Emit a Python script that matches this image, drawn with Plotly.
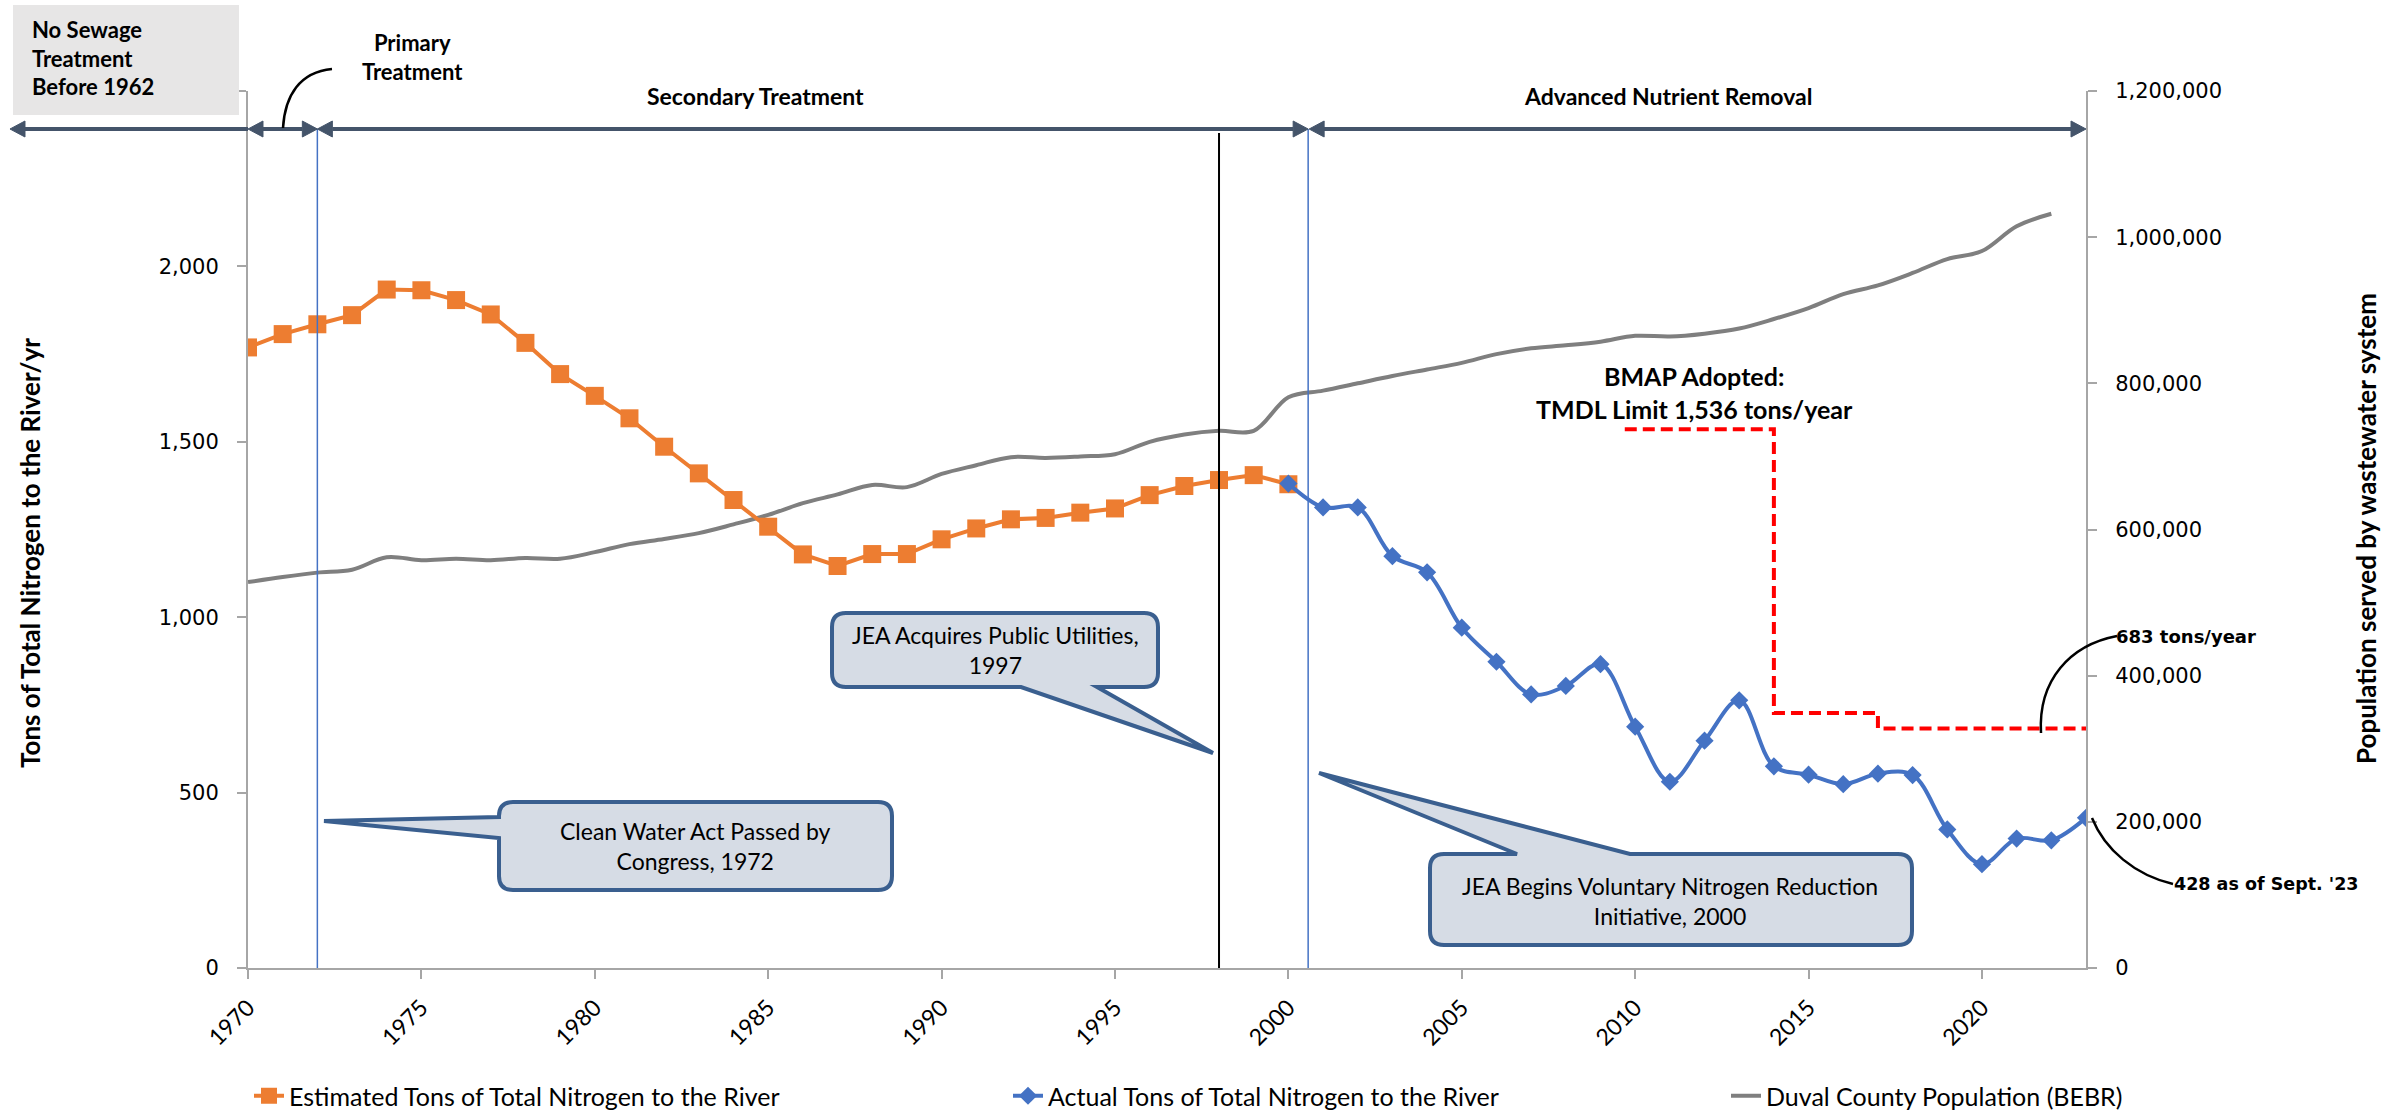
import plotly.graph_objects as go

# ---------------- data ----------------
years_est = list(range(1970, 2001))
est_tons = [1769, 1807, 1835, 1861, 1934, 1932, 1904, 1863, 1782, 1693,
            1631, 1567, 1486, 1410, 1334, 1258, 1179, 1146, 1180, 1180,
            1222, 1253, 1279, 1283, 1298, 1310, 1348, 1374, 1391, 1405, 1379]

years_act = list(range(2000, 2024))
act_tons = [1381, 1313, 1313, 1174, 1128, 970, 873, 780, 804, 866,
            688, 531, 648, 763, 575, 551, 524, 554, 550, 395,
            296, 369, 364, 428]

years_pop = list(range(1970, 2023))
population = [528000, 535000, 541000, 545000, 562000, 558000, 560000, 558000, 561000, 560000,
              569000, 580000, 587000, 595000, 607000, 620000, 636000, 648000, 661000, 658000,
              676000, 688000, 699000, 698000, 700000, 703000, 720000, 730000, 735000, 735000,
              781000, 790000, 800000, 810000, 819000, 828000, 840000, 848000, 852000, 857000,
              865000, 864000, 868000, 875000, 888000, 903000, 922000, 934000, 951000, 970000,
              981000, 1015000, 1032000]

tmdl_years = [2009.7, 2014, 2017, 2023]
tmdl_tons = [1536, 727, 683, 683]

x_ticks = [1970, 1975, 1980, 1985, 1990, 1995, 2000, 2005, 2010, 2015, 2020]
tons_ticks = [0, 500, 1000, 1500, 2000, 2500]
tons_ticktext = ["0", "500", "1,000", "1,500", "2,000", ""]
pop_ticks = [0, 200000, 400000, 600000, 800000, 1000000, 1200000]

# ---------------- geometry helpers (pixel -> paper) ----------------
W, H = 2397, 1118
PL, PR, PT, PB = 248, 2086, 91, 968   # plot area in pixels
X_MIN, X_MAX = 1970, 2023


def px(X):
    return (X - PL) / (PR - PL)


def py(Y):
    return (PB - Y) / (PB - PT)


def yrx(year):
    return PL + (year - X_MIN) * (PR - PL) / (X_MAX - X_MIN)


def P(X, Y):
    return f"{px(X):.5f},{py(Y):.5f}"


AX_GRAY = "#A6A6A6"
ARROW = "#44546A"
CALL_FILL = "#D6DCE5"
CALL_LINE = "#3A5F8F"

fig = go.Figure()

fig.add_trace(go.Scatter(
    x=years_pop, y=population, yaxis="y", mode="lines",
    line=dict(color="#7F7F7F", width=4, shape="spline"),
    name="Duval County Population (BEBR)", legend="legend3", hoverinfo="skip"))

fig.add_trace(go.Scatter(
    x=years_est, y=est_tons, yaxis="y2", mode="lines+markers",
    line=dict(color="#ED7D31", width=4),
    marker=dict(symbol="square", size=18, color="#ED7D31"),
    name="Estimated Tons of Total Nitrogen to the River", legend="legend", hoverinfo="skip"))

fig.add_trace(go.Scatter(
    x=years_act, y=act_tons, yaxis="y2", mode="lines+markers",
    line=dict(color="#4472C4", width=4, shape="spline"),
    marker=dict(symbol="diamond", size=14, color="#4472C4"),
    name="Actual Tons of Total Nitrogen to the River", legend="legend2", hoverinfo="skip"))

fig.add_trace(go.Scatter(
    x=tmdl_years, y=tmdl_tons, yaxis="y2", mode="lines",
    line=dict(color="#FF0000", width=4, dash="12px,6px", shape="hv"),
    showlegend=False, hoverinfo="skip"))

shapes = []

# grey "No Sewage" box
shapes.append(dict(type="rect", xref="paper", yref="paper",
                   x0=px(13), x1=px(239), y0=py(115), y1=py(5),
                   fillcolor="#E7E6E6", line=dict(width=0), layer="above"))

# vertical event lines
ARROW_Y = 129
for yr, col, wdt, ytop in [(1972, "#4472C4", 1.5, ARROW_Y),
                           (1998, "#000000", 2, 133),
                           (2000.57, "#4472C4", 1.5, ARROW_Y)]:
    shapes.append(dict(type="line", xref="paper", yref="paper",
                       x0=px(yrx(yr)), x1=px(yrx(yr)), y0=py(ytop), y1=py(PB),
                       line=dict(color=col, width=wdt), layer="above"))

# phase arrows
HL, HH = 15, 8


def head(tip, direction):
    b = tip + HL if direction == "left" else tip - HL
    return dict(type="path", xref="paper", yref="paper",
                path=f"M{P(tip, ARROW_Y)} L{P(b, ARROW_Y - HH)} L{P(b, ARROW_Y + HH)} Z",
                fillcolor=ARROW, line=dict(color=ARROW, width=1), layer="above")


def seg(xa, xb):
    return dict(type="line", xref="paper", yref="paper",
                x0=px(xa), x1=px(xb), y0=py(ARROW_Y), y1=py(ARROW_Y),
                line=dict(color=ARROW, width=4), layer="above")


x1972 = yrx(1972)
x2000 = yrx(2000.57)
x2023 = yrx(2023)
shapes += [seg(10 + HL, PL), head(10, "left"),
           seg(PL + HL, x1972 - HL), head(PL, "left"), head(x1972, "right"),
           seg(x1972 + HL, x2000 - HL), head(x1972, "left"), head(x2000, "right"),
           seg(x2000 + HL, x2023 - HL), head(x2000 + 1, "left"), head(x2023, "right")]

# curved connectors
for d in [f"M{P(283,128)} C{P(285,95)} {P(300,72)} {P(332,69)}",
          f"M{P(2041,733)} C{P(2038,680)} {P(2070,645)} {P(2117,636)}",
          f"M{P(2092,818)} C{P(2105,850)} {P(2135,875)} {P(2173,884)}"]:
    shapes.append(dict(type="path", xref="paper", yref="paper", path=d,
                       line=dict(color="black", width=2.5), layer="above"))


def callout(x0, y0, x1, y1, side, b1, b2, tip, r=14):
    s = f"M{P(x0 + r, y0)}"
    if side == "top":
        s += f" L{P(b1, y0)} L{P(*tip)} L{P(b2, y0)}"
    s += f" L{P(x1 - r, y0)} Q{P(x1, y0)} {P(x1, y0 + r)}"
    s += f" L{P(x1, y1 - r)} Q{P(x1, y1)} {P(x1 - r, y1)}"
    if side == "bottom":
        s += f" L{P(b2, y1)} L{P(*tip)} L{P(b1, y1)}"
    s += f" L{P(x0 + r, y1)} Q{P(x0, y1)} {P(x0, y1 - r)}"
    if side == "left":
        s += f" L{P(x0, b2)} L{P(*tip)} L{P(x0, b1)}"
    s += f" L{P(x0, y0 + r)} Q{P(x0, y0)} {P(x0 + r, y0)} Z"
    return dict(type="path", xref="paper", yref="paper", path=s,
                fillcolor=CALL_FILL, line=dict(color=CALL_LINE, width=4), layer="above")


shapes.append(callout(832, 613, 1158, 687, "bottom", 1021, 1097, (1213, 753)))
shapes.append(callout(499, 802, 892, 890, "left", 817, 838, (324, 821)))
shapes.append(callout(1430, 854, 1912, 945, "top", 1517, 1630, (1319, 773)))

# ---------------- annotations ----------------
anns = []


def ann(text, X, Y, size, family="Lato", xanchor="center", align="center", angle=0):
    anns.append(dict(text=text, xref="paper", yref="paper", x=px(X), y=py(Y),
                     xanchor=xanchor, yanchor="middle", align=align, showarrow=False,
                     textangle=angle, font=dict(family=family, size=size, color="black")))


ann("<b>No Sewage<br>Treatment<br>Before 1962</b>", 30, 58, 22, xanchor="left", align="left")
ann("<b>Primary<br>Treatment</b>", 412, 57, 22)
ann("<b>Secondary Treatment</b>", 755, 96, 23)
ann("<b>Advanced Nutrient Removal</b>", 1668, 96, 23)
ann("<b>BMAP Adopted:<br>TMDL Limit 1,536 tons/year</b>", 1694, 392, 25)
ann("<b>683 tons/year</b>", 2114, 636, 18, family="DejaVu Sans", xanchor="left")
ann("<b>428 as of Sept. '23</b>", 2172, 884, 17.5, family="DejaVu Sans", xanchor="left")
ann("JEA Acquires Public Utilities,<br>1997", 995, 650, 23)
ann("Clean Water Act Passed by<br>Congress, 1972", 695, 846, 23)
ann("JEA Begins Voluntary Nitrogen Reduction<br>Initiative, 2000", 1670, 901, 23)
ann("<b>Tons of Total Nitrogen to the River/yr</b>", 30, 553, 26, angle=-90)
ann("<b>Population served by wastewater system</b>", 2366, 529, 26, angle=-90)

legend_common = dict(orientation="h", yanchor="middle", xanchor="left",
                     y=py(1096), bgcolor="rgba(0,0,0,0)",
                     font=dict(family="Lato", size=25, color="black"))

tick_font = dict(family="DejaVu Sans", size=21, color="black")

fig.update_layout(
    width=W, height=H, autosize=False,
    margin=dict(l=PL, r=W - PR, t=PT, b=H - PB, pad=0, autoexpand=False),
    paper_bgcolor="white", plot_bgcolor="white",
    font=dict(family="Lato", color="black"),
    hovermode=False,
    xaxis=dict(range=[X_MIN, X_MAX], tickvals=x_ticks, ticks="outside", ticklen=9,
               tickwidth=2, tickcolor=AX_GRAY, showline=True, linecolor=AX_GRAY,
               linewidth=2, showgrid=False, zeroline=False, tickangle=-45,
               tickfont=dict(family="Lato", size=23, color="black"), ticklabelstandoff=6),
    yaxis=dict(side="right", range=[0, 1200000], tickvals=pop_ticks, tickformat=",",
               ticks="outside", ticklen=9, tickwidth=2, tickcolor=AX_GRAY, showline=True,
               linecolor=AX_GRAY, linewidth=2, showgrid=False, zeroline=False,
               tickfont=tick_font, ticklabelstandoff=14),
    yaxis2=dict(side="left", overlaying="y", range=[0, 2500], tickvals=tons_ticks,
                ticktext=tons_ticktext, ticks="outside", ticklen=9, tickwidth=2,
                tickcolor=AX_GRAY, showline=True, linecolor=AX_GRAY, linewidth=2,
                showgrid=False, zeroline=False, tickfont=tick_font, ticklabelstandoff=14),
    legend=dict(x=px(249), **legend_common),
    legend2=dict(x=px(1008), **legend_common),
    legend3=dict(x=px(1726), **legend_common),
    shapes=shapes,
    annotations=anns,
)

fig.write_html("out.html",
               config={"displayModeBar": False, "staticPlot": True},
               post_script="document.body.style.margin='0px';document.body.style.padding='0px';")
